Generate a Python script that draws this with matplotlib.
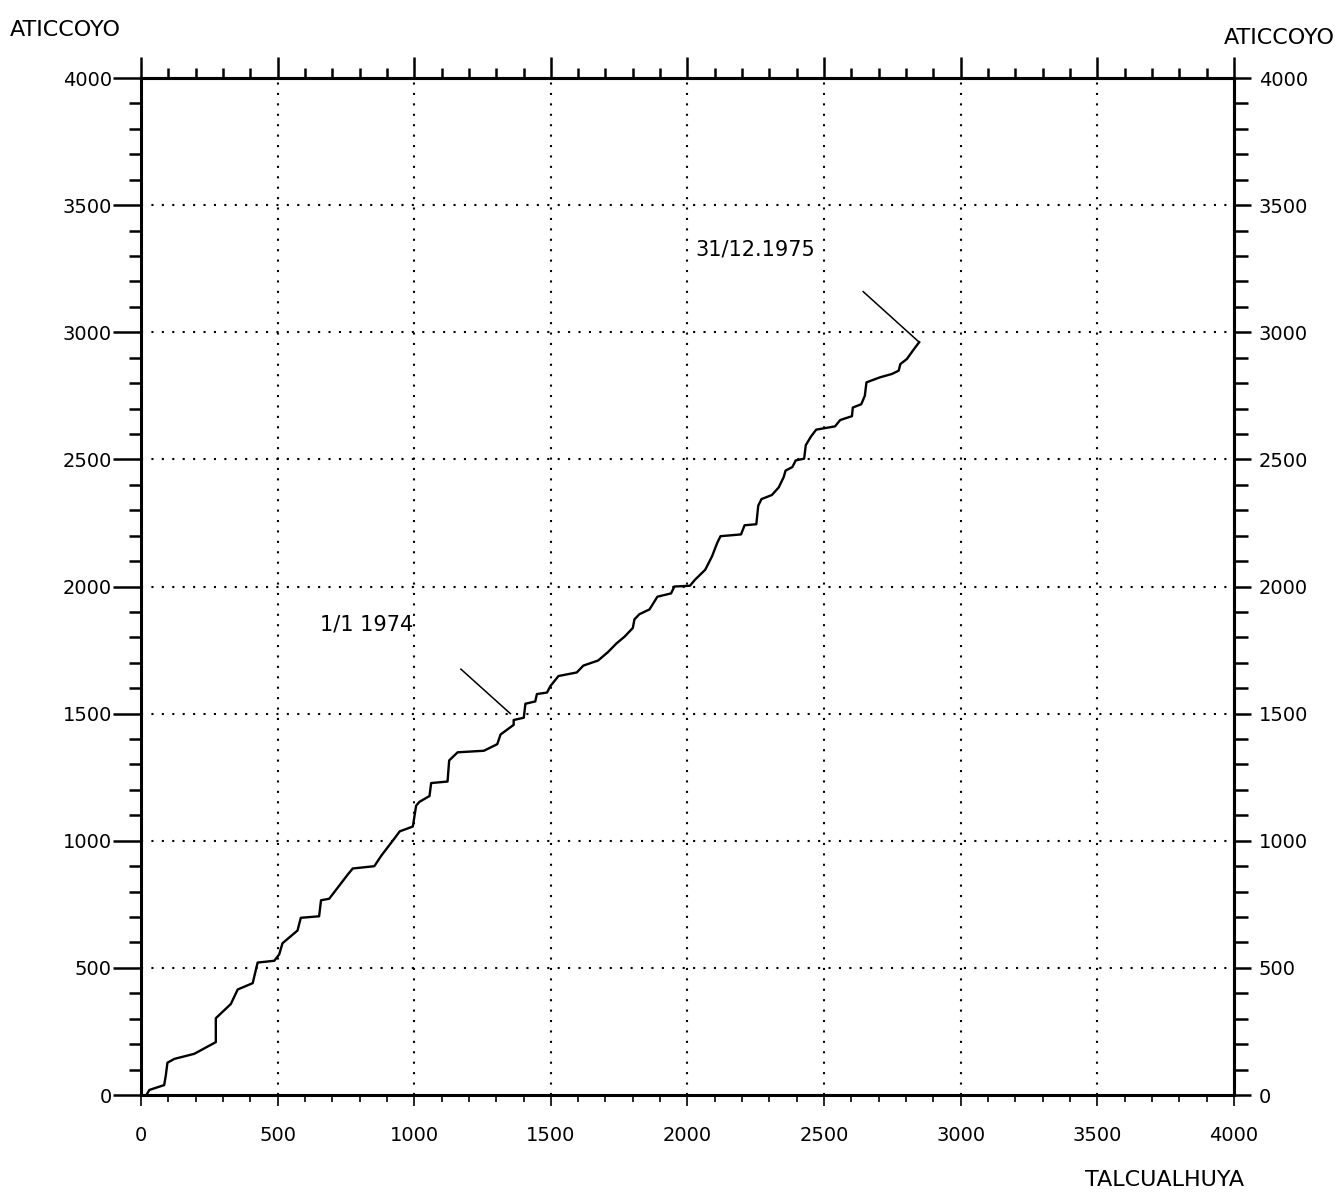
import numpy as np
import matplotlib.pyplot as plt
from matplotlib.ticker import MultipleLocator

# ── Veri ──────────────────────────────────────────────────────────────────────
talcualhuya = [20, 31, 85, 91, 97, 122, 195, 274, 274, 329, 354, 409, 427, 488,
               506, 518, 573, 585, 652, 659, 689, 756, 775, 854, 880, 929, 947,
               995, 1007, 1019, 1056, 1062, 1122, 1128, 1159, 1255, 1304, 1316,
               1364, 1364, 1401, 1407, 1443, 1449, 1486, 1498, 1528, 1595, 1619,
               1673, 1709, 1740, 1770, 1800, 1806, 1824, 1861, 1890, 1940, 1952,
               2009, 2027, 2065, 2090, 2109, 2121, 2196, 2209, 2252, 2259, 2271,
               2309, 2334, 2352, 2359, 2384, 2396, 2427, 2433, 2452, 2471, 2540,
               2559, 2602, 2605, 2636, 2649, 2655, 2705, 2748, 2773, 2779, 2803,
               2829, 2848]
aticcoyo = [0, 20, 39, 77, 127, 142, 162, 208, 302, 358, 415, 440, 521, 528,
            553, 597, 647, 697, 703, 766, 772, 866, 891, 900, 942, 1011, 1037,
            1056, 1138, 1153, 1176, 1227, 1233, 1316, 1348, 1354, 1380, 1418,
            1456, 1475, 1484, 1539, 1548, 1577, 1583, 1608, 1648, 1662, 1689,
            1709, 1742, 1776, 1803, 1837, 1871, 1891, 1910, 1960, 1973, 2000,
            2003, 2026, 2066, 2119, 2172, 2198, 2205, 2241, 2245, 2318, 2344,
            2360, 2390, 2430, 2456, 2470, 2496, 2503, 2556, 2590, 2617, 2630,
            2655, 2670, 2704, 2717, 2750, 2803, 2823, 2836, 2849, 2875, 2895,
            2934, 2961]

# işaret çizgileri: (metin, metin_x, metin_y, çizgi_x, çizgi_y)
notes_text = ["1/1 1974", "31/12.1975"]
notes_text_xy = [(655, 1850), (2028, 3324)]
notes_line_x = [(1171, 1352), (2643, 2848)]
notes_line_y = [(1675, 1500), (3160, 2961)]

major_ticks = np.arange(0, 4001, 500)

# ── Çizim ─────────────────────────────────────────────────────────────────────
plt.rcParams["font.family"] = ["DejaVu Sans"]

fig = plt.figure(figsize=(13.41, 11.97), dpi=100)
ax = fig.add_axes([0.1051, 0.0852, 0.8151, 0.8496])

ax.set_xlim(0, 4000)
ax.set_ylim(0, 4000)

# noktalı ızgara
for v in major_ticks[1:-1]:
    ax.axvline(v, color="black", lw=1.5, ls=(0, (1, 4)), zorder=1)
    ax.axhline(v, color="black", lw=1.5, ls=(0, (1, 4)), zorder=1)

ax.plot(talcualhuya, aticcoyo, color="black", lw=1.7, zorder=3)

for txt, (tx, ty), lx, ly in zip(notes_text, notes_text_xy, notes_line_x, notes_line_y):
    ax.text(tx, ty, txt, fontsize=15, ha="left", va="center")
    ax.plot(lx, ly, color="black", lw=1.1, zorder=3)

for s in ax.spines.values():
    s.set_linewidth(2.2)

# sol ve alt eksen
ax.xaxis.set_major_locator(MultipleLocator(500))
ax.xaxis.set_minor_locator(MultipleLocator(100))
ax.yaxis.set_major_locator(MultipleLocator(500))
ax.yaxis.set_minor_locator(MultipleLocator(100))
ax.tick_params(axis="y", which="major", direction="out", length=20, width=1.8,
               pad=1, labelsize=14)
ax.tick_params(axis="y", which="minor", direction="out", length=9, width=1.8)
ax.tick_params(axis="x", which="major", direction="out", length=8, width=1.2,
               pad=14, labelsize=14)
ax.tick_params(axis="x", which="minor", direction="out", length=5, width=1.2)

# sağ eksen
sec_y = ax.secondary_yaxis("right")
sec_y.yaxis.set_major_locator(MultipleLocator(500))
sec_y.yaxis.set_minor_locator(MultipleLocator(100))
sec_y.tick_params(which="major", direction="out", length=12, width=1.8,
                  pad=6, labelsize=14)
sec_y.tick_params(which="minor", direction="out", length=10, width=1.8)
sec_y.spines["right"].set_linewidth(2.2)
sec_y.yaxis.offsetText.set_visible(False)
sec_y.xaxis.offsetText.set_visible(False)

# üst eksen (etiketsiz)
sec_x = ax.secondary_xaxis("top")
sec_x.xaxis.set_major_locator(MultipleLocator(500))
sec_x.xaxis.set_minor_locator(MultipleLocator(100))
sec_x.tick_params(which="major", direction="out", length=15, width=1.8,
                  labeltop=False)
sec_x.tick_params(which="minor", direction="out", length=7, width=1.8)
sec_x.spines["top"].set_linewidth(2.2)
sec_x.xaxis.offsetText.set_visible(False)
sec_x.yaxis.offsetText.set_visible(False)
ax.xaxis.offsetText.set_visible(False)
ax.yaxis.offsetText.set_visible(False)

# eksen başlıkları
fig.text(0.0075, 0.975, "ATICCOYO", fontsize=16, ha="left", va="center")
fig.text(0.9955, 0.968, "ATICCOYO", fontsize=16, ha="right", va="center")
fig.text(0.928, 0.0142, "TALCUALHUYA", fontsize=16, ha="right", va="center")

fig.savefig("out.png", dpi=100)
plt.close(fig)
